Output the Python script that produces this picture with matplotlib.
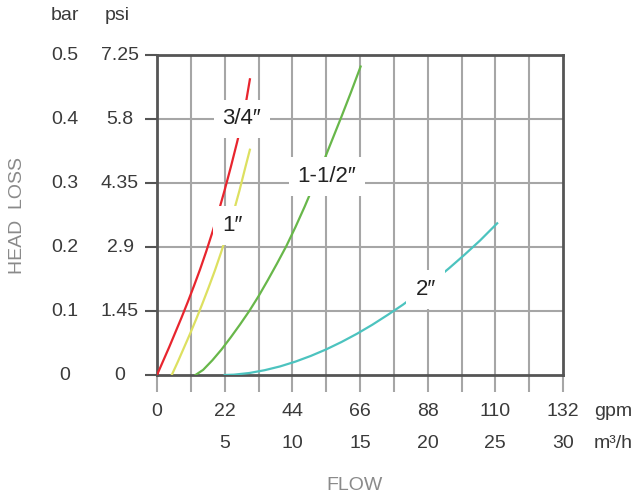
import numpy as np
import matplotlib
matplotlib.use("Agg")
import matplotlib.pyplot as plt
from matplotlib.transforms import blended_transform_factory

plt.rcParams['font.family'] = ['Liberation Sans', 'DejaVu Sans']

# ---------- data ----------
# flow in gpm, head loss in bar
red_x = [0, 2, 4, 6, 8, 10, 12, 14, 16, 18, 20, 22, 24, 26, 27, 28, 29, 30.2]
red_y = [0, 0.022, 0.044, 0.067, 0.090, 0.114, 0.139, 0.165, 0.193, 0.223, 0.255,
         0.289, 0.325, 0.363, 0.383, 0.404, 0.428, 0.462]

yellow_x = [4.8, 6.8, 8.8, 10.8, 12.8, 14.8, 16.8, 18.8, 20.8, 22.8, 24.8, 26.8, 28.8, 30.2]
yellow_y = [0, 0.021, 0.043, 0.065, 0.088, 0.112, 0.137, 0.163, 0.191, 0.221, 0.253,
            0.288, 0.326, 0.352]

green_x = [12.5, 15, 18, 21, 24, 27, 30, 33, 36, 39, 42, 45, 48, 51, 54, 57, 60, 63, 66.2]
green_y = [0, 0.008, 0.023, 0.040, 0.059, 0.079, 0.100, 0.123, 0.148, 0.174, 0.201,
           0.231, 0.263, 0.297, 0.332, 0.368, 0.404, 0.441, 0.482]

teal_x = [22, 25, 30, 35, 40, 45, 50, 55, 60, 65, 70, 75, 80, 85, 90, 95, 100, 105, 110.6]
teal_y = [0, 0.0005, 0.0031, 0.0075, 0.0134, 0.0209, 0.0298, 0.040, 0.0516, 0.0644,
          0.0785, 0.0939, 0.110, 0.128, 0.147, 0.167, 0.188, 0.210, 0.237]

gpm_ticks = [0, 22, 44, 66, 88, 110, 132]
m3h_labels = ['', '5', '10', '15', '20', '25', '30']
bar_ticks = [0, 0.1, 0.2, 0.3, 0.4, 0.5]
bar_labels = ['0', '0.1', '0.2', '0.3', '0.4', '0.5']
psi_labels = ['0', '1.45', '2.9', '4.35', '5.8', '7.25']

curve_labels = ['3/4\u2033', '1\u2033', '1-1/2\u2033', '2\u2033']
label_pos = [(27.6, 0.40), (24.4, 0.234), (55.3, 0.31), (87.3, 0.133)]

# ---------- figure ----------
fig = plt.figure(figsize=(6.39, 5.01), dpi=100)
ax = fig.add_axes([157 / 639, 1 - 375 / 501, 406 / 639, 320 / 501])
ax.set_xlim(0, 132)
ax.set_ylim(0, 0.5)

grid_c = '#a6a6a6'
dark = '#555555'
txt = '#3a3a3a'
light = '#8a8a8a'
fs = 14

for gx in range(11, 132, 11):
    ax.axvline(gx, color=grid_c, lw=1.5, zorder=1)
for gy in [0.1, 0.2, 0.3, 0.4]:
    ax.axhline(gy, color=grid_c, lw=1.5, zorder=1)

for s in ax.spines.values():
    s.set_color(dark)
    s.set_linewidth(2)

ax.set_xticks(range(0, 133, 11))
ax.set_xticklabels([])
ax.tick_params(axis='x', length=12, width=1.5, color=grid_c, direction='out')
ax.set_yticks(bar_ticks)
ax.set_yticklabels([])
ax.tick_params(axis='y', length=9, width=1.5, color=dark, direction='out')

ax.plot(red_x, red_y, color='#e8252e', lw=1.6, zorder=3)
ax.plot(yellow_x, yellow_y, color='#dde060', lw=1.6, zorder=3)
ax.plot(green_x, green_y, color='#68b74a', lw=1.6, zorder=3)
ax.plot(teal_x, teal_y, color='#4cc3bf', lw=1.6, zorder=3)

for lab, (lx, ly) in zip(curve_labels, label_pos):
    ax.text(lx, ly, lab, fontsize=16, color='#222222', ha='center', va='center', zorder=5,
            bbox=dict(boxstyle='square,pad=0.4', fc='white', ec='none'))

# left tick labels (bar / psi columns)
ty = blended_transform_factory(fig.transFigure, ax.transData)
for v, b, p in zip(bar_ticks, bar_labels, psi_labels):
    fig.text(65 / 639, v, b, transform=ty, fontsize=fs, color=txt, ha='center', va='center')
    fig.text(120 / 639, v, p, transform=ty, fontsize=fs, color=txt, ha='center', va='center')
fig.text(65 / 639, 1 - 15 / 501, 'bar', fontsize=fs, color=txt, ha='center', va='center')
fig.text(117 / 639, 1 - 15 / 501, 'psi', fontsize=fs, color=txt, ha='center', va='center')
fig.text(18 / 639, 1 - 215 / 501, 'HEAD  LOSS', fontsize=fs, color=light, rotation=90,
         ha='center', va='center')

# bottom tick labels (gpm / m3/h rows)
tx = blended_transform_factory(ax.transData, fig.transFigure)
for v, m in zip(gpm_ticks, m3h_labels):
    fig.text(v, 1 - 412 / 501, str(v), transform=tx, fontsize=fs, color=txt, ha='center', va='center')
    fig.text(v, 1 - 443 / 501, m, transform=tx, fontsize=fs, color=txt, ha='center', va='center')
fig.text(594 / 639, 1 - 412 / 501, 'gpm', fontsize=fs, color=txt, ha='left', va='center')
fig.text(594 / 639, 1 - 443 / 501, 'm\u00b3/h', fontsize=fs, color=txt, ha='left', va='center')
fig.text(355 / 639, 1 - 485 / 501, 'FLOW', fontsize=fs, color=light, ha='center', va='center')

fig.savefig('out.png', dpi=100)
